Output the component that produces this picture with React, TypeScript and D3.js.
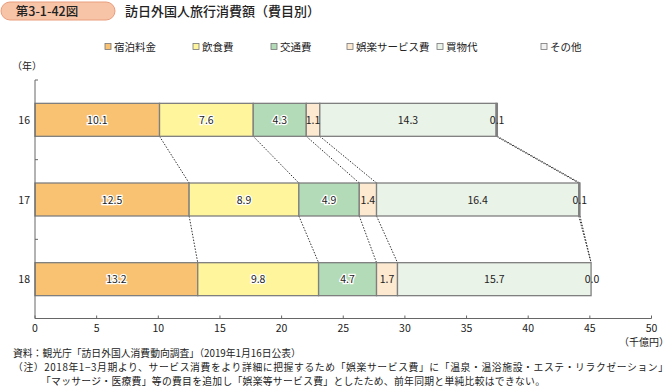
import React, { useRef, useEffect } from "react";
import * as d3 from "d3";

const years = ["16", "17", "18"];
const categories = ["宿泊料金", "飲食費", "交通費", "娯楽サービス費", "買物代", "その他"];
const lodging = [10.1, 12.5, 13.2];
const food = [7.6, 8.9, 9.8];
const transport = [4.3, 4.9, 4.7];
const entertainment = [1.1, 1.4, 1.7];
const shopping = [14.3, 16.4, 15.7];
const other = [0.1, 0.1, 0.0];
const xTicks = [0, 5, 10, 15, 20, 25, 30, 35, 40, 45, 50];
const colors = ["#F8C272", "#FFF59C", "#B3DBB7", "#FDE9D0", "#EAF3E8", "#F2F2F2"];
const legendX = [105, 193, 271, 347, 437, 541];

const notes = [
  "資料：観光庁「訪日外国人消費動向調査」（2019年1月16日公表）",
  "（注）2018年1−3月期より、サービス消費をより詳細に把握するため「娯楽サービス費」に「温泉・温浴施設・エステ・リラクゼーション」",
  "「マッサージ・医療費」等の費目を追加し「娯楽等サービス費」としたため、前年同期と単純比較はできない。",
];

const W = 670;
const H = 391;
const FONT = "'Noto Sans CJK JP', 'Noto Sans', sans-serif";

const App = () => {
  const ref = useRef<SVGSVGElement>(null);

  useEffect(() => {
    const svg = d3.select(ref.current);
    svg.selectAll("*").remove();
    svg.attr("width", W).attr("height", H).style("font-family", FONT);

    const series = [lodging, food, transport, entertainment, shopping, other];
    const rows = years.map((y, i) => {
      const r: any = { year: y };
      categories.forEach((c, j) => (r[c] = series[j][i]));
      return r;
    });
    const stacked = d3.stack().keys(categories)(rows);

    const x = d3.scaleLinear().domain([0, 50]).range([35, 651.5]);
    const y = d3.scaleBand().domain(years).range([80, 319]).paddingInner(0.586).paddingOuter(0.293);

    // title banner
    svg.append("rect").attr("x", 1).attr("y", 2).attr("width", 114).attr("height", 18)
      .attr("rx", 9).attr("fill", "#F7C4A8").attr("stroke", "#E99C7C");
    svg.append("text").attr("x", 47).attr("y", 15.5).attr("text-anchor", "middle")
      .attr("font-size", 12.5).attr("font-weight", 500).attr("fill", "#222").text("第3-1-42図");
    svg.append("text").attr("x", 125).attr("y", 16).attr("font-size", 13).attr("font-weight", 500)
      .attr("fill", "#222").text("訪日外国人旅行消費額（費目別）");

    // legend
    categories.forEach((c, i) => {
      svg.append("rect").attr("x", legendX[i]).attr("y", 43.5).attr("width", 6).attr("height", 6)
        .attr("fill", colors[i]).attr("stroke", "#777").attr("stroke-width", 0.8);
      svg.append("text").attr("x", legendX[i] + 9).attr("y", 50.5).attr("font-size", 10.5)
        .attr("fill", "#222").text(c);
    });

    // connectors
    for (let i = 0; i < years.length - 1; i++) {
      stacked.forEach((s) => {
        svg.append("line")
          .attr("x1", x(s[i][1])).attr("y1", (y(years[i]) as number) + y.bandwidth())
          .attr("x2", x(s[i + 1][1])).attr("y2", y(years[i + 1]) as number)
          .attr("stroke", "#333").attr("stroke-width", 1).attr("stroke-dasharray", "1.5,1.5");
      });
    }

    // bars
    stacked.forEach((s, j) => {
      svg.append("g").selectAll("rect").data(s).join("rect")
        .attr("x", (d) => x(d[0]))
        .attr("y", (d: any) => y(d.data.year) as number)
        .attr("width", (d) => Math.max(0, x(d[1]) - x(d[0])))
        .attr("height", y.bandwidth())
        .attr("fill", colors[j])
        .attr("stroke", "#7f7f7f")
        .attr("stroke-width", 1.3);
    });

    // labels
    stacked.forEach((s, j) => {
      svg.append("g").selectAll("text").data(s).join("text")
        .attr("x", (d) => (j === 5 ? x(d[0]) + 1 : (x(d[0]) + x(d[1])) / 2))
        .attr("y", (d: any) => (y(d.data.year) as number) + y.bandwidth() / 2 + 4)
        .attr("text-anchor", "middle")
        .attr("font-size", 10.5)
        .attr("fill", "#222")
        .attr("stroke", "#fff")
        .attr("stroke-width", j < 3 ? 2.5 : 0)
        .attr("paint-order", "stroke")
        .text((d) => (d[1] - d[0]).toFixed(1));
    });

    // y axis
    svg.append("line").attr("x1", 35).attr("x2", 35).attr("y1", 80).attr("y2", 318.5)
      .attr("stroke", "#666").attr("stroke-width", 1);
    [80, 80 + y.step(), 80 + 2 * y.step()].forEach((t) => {
      svg.append("line").attr("x1", 35).attr("x2", 38).attr("y1", t).attr("y2", t)
        .attr("stroke", "#666");
    });
    years.forEach((yr) => {
      svg.append("text").attr("x", 30).attr("y", (y(yr) as number) + y.bandwidth() / 2 + 4)
        .attr("text-anchor", "end").attr("font-size", 10.5).attr("fill", "#222").text(yr);
    });
    svg.append("text").attr("x", 12).attr("y", 70).attr("font-size", 10).attr("fill", "#222").text("（年）");

    // x axis
    svg.append("line").attr("x1", 35).attr("x2", 651.5).attr("y1", 318.5).attr("y2", 318.5)
      .attr("stroke", "#666").attr("stroke-width", 1);
    xTicks.forEach((t) => {
      svg.append("line").attr("x1", x(t)).attr("x2", x(t)).attr("y1", 318.5).attr("y2", 315.5)
        .attr("stroke", "#666");
      svg.append("text").attr("x", x(t)).attr("y", 332).attr("text-anchor", "middle")
        .attr("font-size", 10.5).attr("fill", "#222").text(t);
    });
    svg.append("text").attr("x", 669).attr("y", 346).attr("text-anchor", "end")
      .attr("font-size", 10).attr("fill", "#222").text("（千億円）");

    // notes
    svg.append("text").attr("x", 13).attr("y", 357).attr("font-size", 9.8).attr("fill", "#222").text(notes[0]);
    svg.append("text").attr("x", 13).attr("y", 371).attr("font-size", 9.8).attr("fill", "#222")
      .attr("textLength", 655).attr("lengthAdjust", "spacing").text(notes[1]);
    svg.append("text").attr("x", 41).attr("y", 385).attr("font-size", 9.8).attr("fill", "#222")
      .attr("textLength", 504).attr("lengthAdjust", "spacing").text(notes[2]);
  }, []);

  return <svg ref={ref} style={{ position: "absolute", left: 0, top: 0 }} />;
};

export default App;
